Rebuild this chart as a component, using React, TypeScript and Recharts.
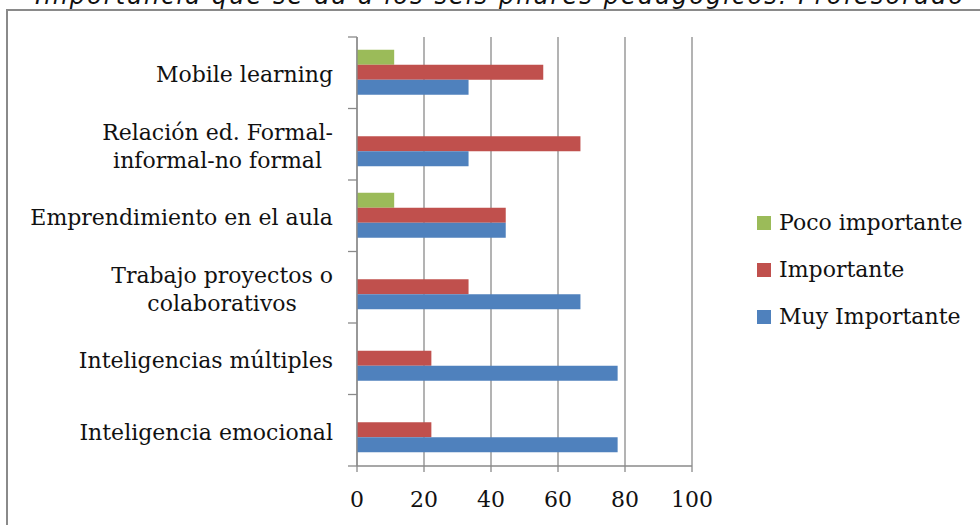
import React from "react";
import { Bar, BarChart, CartesianGrid, Legend, XAxis, YAxis } from "recharts";

const categories = [
  "Mobile learning",
  "Relación ed. Formal-informal-no formal",
  "Emprendimiento en el aula",
  "Trabajo proyectos o colaborativos",
  "Inteligencias múltiples",
  "Inteligencia emocional",
];

// how each category label is broken over lines
const labelLines: string[][] = [
  ["Mobile learning"],
  ["Relación ed. Formal-", "informal-no formal"],
  ["Emprendimiento en el aula"],
  ["Trabajo proyectos o", "colaborativos"],
  ["Inteligencias múltiples"],
  ["Inteligencia emocional"],
];

const pocoImportante = [11.1, 0, 11.1, 0, 0, 0];
const importante = [55.6, 66.7, 44.4, 33.3, 22.2, 22.2];
const muyImportante = [33.3, 33.3, 44.4, 66.7, 77.8, 77.8];

const seriesNames = ["Poco importante", "Importante", "Muy Importante"];

const xTicks = [0, 20, 40, 60, 80, 100];

const title = "Importancia que se da a los seis pilares pedagógicos. Profesorado";

const data = categories.map((name, i) => ({
  name,
  poco: pocoImportante[i],
  importante: importante[i],
  muy: muyImportante[i],
}));

const SERIF = "'DejaVu Serif', serif";
const AXIS_GRAY = "#8a8a8a";

let measureCtx: CanvasRenderingContext2D | null = null;
function textWidth(text: string, font: string) {
  if (!measureCtx) measureCtx = document.createElement("canvas").getContext("2d");
  if (!measureCtx) return text.length * 11;
  measureCtx.font = font;
  return measureCtx.measureText(text).width;
}

function CategoryTick(props: any) {
  const { x, y, payload, index } = props;
  const half = payload?.offset ?? 35.75;
  const lines = labelLines[index] ?? [String(payload.value)];
  const right = x - 24;
  const widths = lines.map((l) => textWidth(l, `22px ${SERIF}`));
  const blockW = Math.max(...widths);
  const lineH = 28;
  const firstY = y + 2 - ((lines.length - 1) * lineH) / 2;
  return (
    <g>
      <line x1={x - 9} x2={x} y1={y - half} y2={y - half} stroke={AXIS_GRAY} strokeWidth={1.3} />
      {index === categories.length - 1 && (
        <line x1={x - 9} x2={x} y1={y + half} y2={y + half} stroke={AXIS_GRAY} strokeWidth={1.3} />
      )}
      {lines.map((line, i) => (
        <text
          key={i}
          x={lines.length > 1 ? right - blockW / 2 : right}
          y={firstY + i * lineH}
          dy="0.35em"
          textAnchor={lines.length > 1 ? "middle" : "end"}
          fontFamily={SERIF}
          fontSize={22}
          fill="#111"
        >
          {line}
        </text>
      ))}
    </g>
  );
}

function LegendContent({ payload }: any) {
  const items = [...(payload ?? [])].sort(
    (a: any, b: any) => seriesNames.indexOf(a.value) - seriesNames.indexOf(b.value)
  );
  return (
    <div>
      {items.map((item: any) => (
        <div key={item.value} style={{ display: "flex", alignItems: "center", height: 47 }}>
          <span style={{ display: "inline-block", width: 14, height: 14, background: item.color, marginRight: 8 }} />
          <span style={{ fontFamily: SERIF, fontSize: 22, color: "#111", whiteSpace: "nowrap" }}>{item.value}</span>
        </div>
      ))}
    </div>
  );
}

export default function App() {
  return (
    <div style={{ position: "absolute", left: 0, top: 0, width: 980, height: 525, background: "#fff" }}>
      <svg width={980} height={525} style={{ position: "absolute", left: 0, top: 0 }}>
        <text
          x={499}
          y={4}
          textAnchor="middle"
          fontFamily="'DejaVu Sans', sans-serif"
          fontStyle="italic"
          fontSize={24}
          textLength={928}
          fill="#111"
        >
          {title}
        </text>
        <path d="M7,525 L7,10 L980,10" fill="none" stroke={AXIS_GRAY} strokeWidth={2} />
      </svg>
      <div style={{ position: "absolute", left: 0, top: 0 }}>
        <BarChart
          width={980}
          height={525}
          data={data}
          layout="vertical"
          margin={{ top: 37, right: 288, bottom: 19, left: 0 }}
          barCategoryGap="18%"
          barGap={0}
        >
          <CartesianGrid horizontal={false} stroke={AXIS_GRAY} strokeWidth={1.3} />
          <XAxis
            type="number"
            domain={[0, 100]}
            ticks={xTicks}
            interval={0}
            height={40}
            tickSize={6}
            tickMargin={19}
            axisLine={{ stroke: AXIS_GRAY, strokeWidth: 1.3 }}
            tickLine={{ stroke: AXIS_GRAY, strokeWidth: 1.3 }}
            tick={{ fontFamily: SERIF, fontSize: 22, fill: "#111" }}
          />
          <YAxis
            type="category"
            dataKey="name"
            width={357}
            interval={0}
            tickSize={0}
            tickMargin={0}
            tickLine={false}
            axisLine={{ stroke: AXIS_GRAY, strokeWidth: 1.3 }}
            tick={<CategoryTick />}
          />
          <Legend
            layout="vertical"
            align="center"
            verticalAlign="middle"
            width={220}
            itemSorter={null}
            content={<LegendContent />}
            wrapperStyle={{ left: 757, top: 199, width: 220 }}
          />
          <Bar dataKey="poco" name={seriesNames[0]} fill="#9BBB59" isAnimationActive={false} />
          <Bar dataKey="importante" name={seriesNames[1]} fill="#C0504D" isAnimationActive={false} />
          <Bar dataKey="muy" name={seriesNames[2]} fill="#4F81BD" isAnimationActive={false} />
        </BarChart>
      </div>
    </div>
  );
}
